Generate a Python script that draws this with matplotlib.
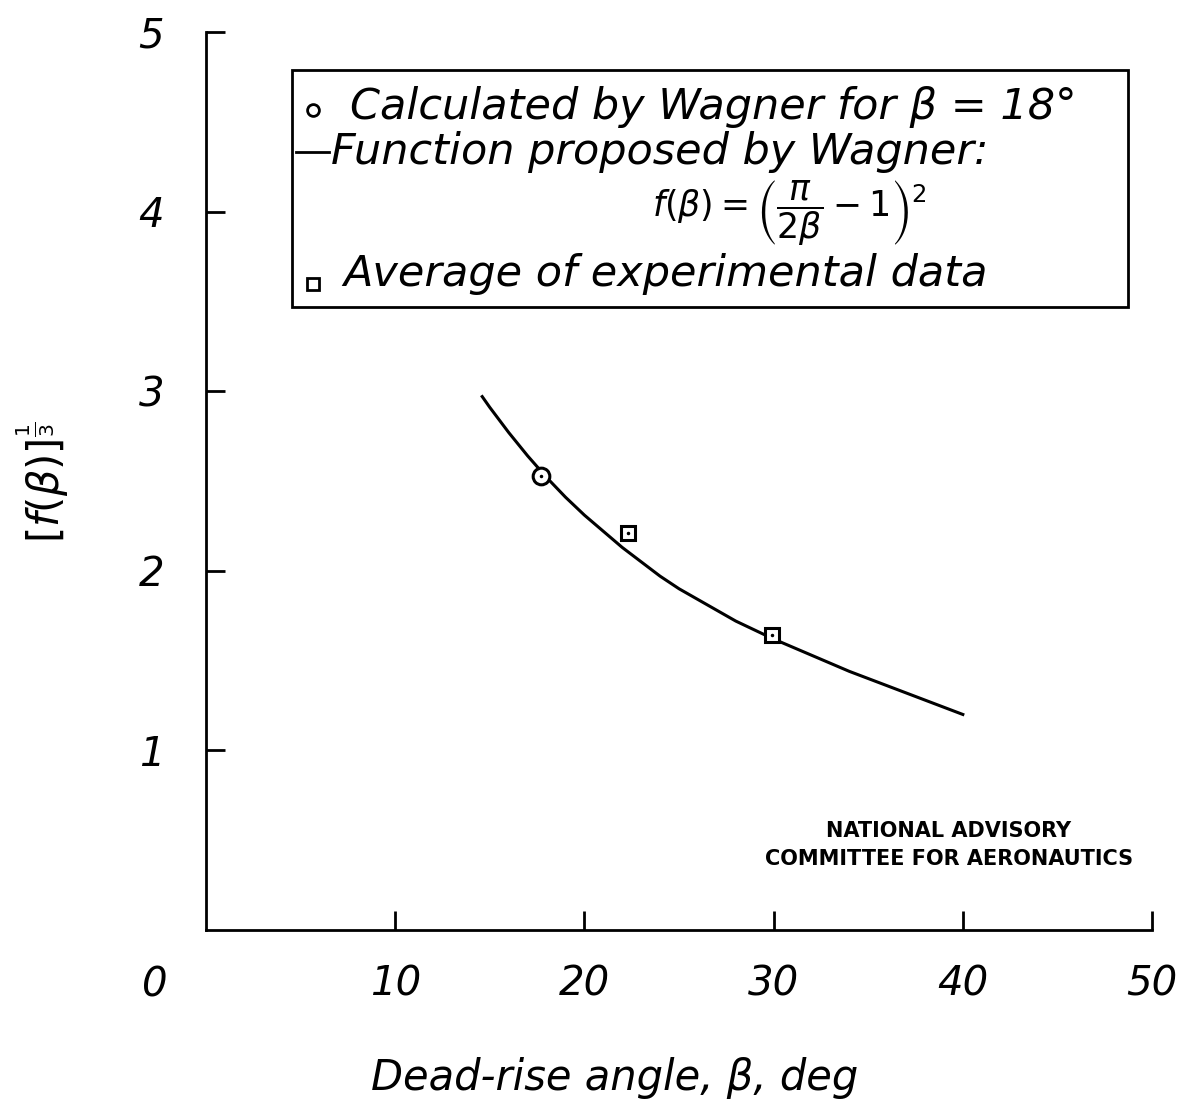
import matplotlib
matplotlib.use("Agg")
import matplotlib.pyplot as plt
from matplotlib.patches import Rectangle

plt.rcParams["font.family"] = ["DejaVu Sans"]
plt.rcParams["mathtext.fontset"] = "dejavusans"

# curve: Wagner's function, [f(beta)]^(1/3)
beta_curve = [14.6, 15, 16, 17, 18, 19, 20, 21, 22, 23, 24, 25, 26, 27, 28, 29,
              30, 32, 34, 36, 38, 40]
f_curve = [2.97, 2.91, 2.77, 2.64, 2.52, 2.41, 2.31, 2.22, 2.13, 2.05, 1.97, 1.90,
           1.84, 1.78, 1.72, 1.67, 1.62, 1.53, 1.44, 1.36, 1.28, 1.20]

# calculated by Wagner
beta_calc = [17.7]
f_calc = [2.53]

# average of experimental data
beta_exp = [22.3, 29.9]
f_exp = [2.21, 1.64]

xticks = [10, 20, 30, 40, 50]
yticks = [1, 2, 3, 4, 5]

fig = plt.figure(figsize=(11.85, 11.16), dpi=100)
ax = fig.add_axes([0.1738, 0.1667, 0.7984, 0.8046])
ax.set_xlim(0, 50)
ax.set_ylim(0, 5)

for s in ("top", "right"):
    ax.spines[s].set_visible(False)
for s in ("left", "bottom"):
    ax.spines[s].set_linewidth(2.0)

ax.set_xticks(xticks)
ax.set_yticks(yticks)
ax.set_xticklabels([str(v) for v in xticks], fontsize=29, style="italic")
ax.set_yticklabels([str(v) for v in yticks], fontsize=29, style="italic")
ax.tick_params(axis="both", direction="in", length=14, width=2.0)
ax.tick_params(axis="x", pad=25)
ax.tick_params(axis="y", pad=30)
fig.text(155 / 1185, 1 - 985 / 1116, "0", fontsize=29, style="italic",
         ha="center", va="center")

ax.plot(beta_curve, f_curve, color="black", lw=2.2)
ax.plot(beta_calc, f_calc, "o", ms=12, mfc="white", mec="black", mew=2.2)
ax.plot(beta_calc, f_calc, ".", ms=3, color="black")
ax.plot(beta_exp, f_exp, "s", ms=10, mfc="white", mec="black", mew=2.2)
ax.plot(beta_exp, f_exp, ".", ms=3, color="black")

# legend box
ax.add_patch(Rectangle((0.091, 0.694), 0.884, 0.264, transform=ax.transAxes,
                       fill=False, lw=2.0, ec="black", clip_on=False))
ax.plot([0.113], [0.913], "o", ms=8.5, mfc="white", mec="black", mew=2.0,
        transform=ax.transAxes, clip_on=False)
ax.text(0.152, 0.917, "Calculated by Wagner for β = 18°", transform=ax.transAxes,
        fontsize=31, style="italic", ha="left", va="center")
ax.plot([0.095, 0.13], [0.866, 0.866], color="black", lw=2.0,
        transform=ax.transAxes, clip_on=False)
ax.text(0.132, 0.866, "Function proposed by Wagner:", transform=ax.transAxes,
        fontsize=31, style="italic", ha="left", va="center")
ax.text(0.617, 0.798, r"$f(\beta) = \left(\dfrac{\pi}{2\beta} - 1\right)^2$",
        transform=ax.transAxes, fontsize=25, ha="center", va="center")
ax.plot([0.113], [0.719], "s", ms=8.5, mfc="white", mec="black", mew=2.0,
        transform=ax.transAxes, clip_on=False)
ax.text(0.145, 0.730, "Average of experimental data", transform=ax.transAxes,
        fontsize=31, style="italic", ha="left", va="center")

ax.text(0.785, 0.095, "NATIONAL ADVISORY\nCOMMITTEE FOR AERONAUTICS",
        transform=ax.transAxes, fontsize=15, fontweight="bold", ha="center",
        va="center", linespacing=1.5)

fig.text(42 / 1185, 1 - 482 / 1116, r"$\left[f(\beta)\right]^{\frac{1}{3}}$",
         fontsize=30, rotation=90, ha="center", va="center")
fig.text(615 / 1185, 1 - 1078 / 1116, "Dead-rise angle, β, deg", fontsize=30,
         style="italic", ha="center", va="center")

fig.savefig("out.png", dpi=100)
